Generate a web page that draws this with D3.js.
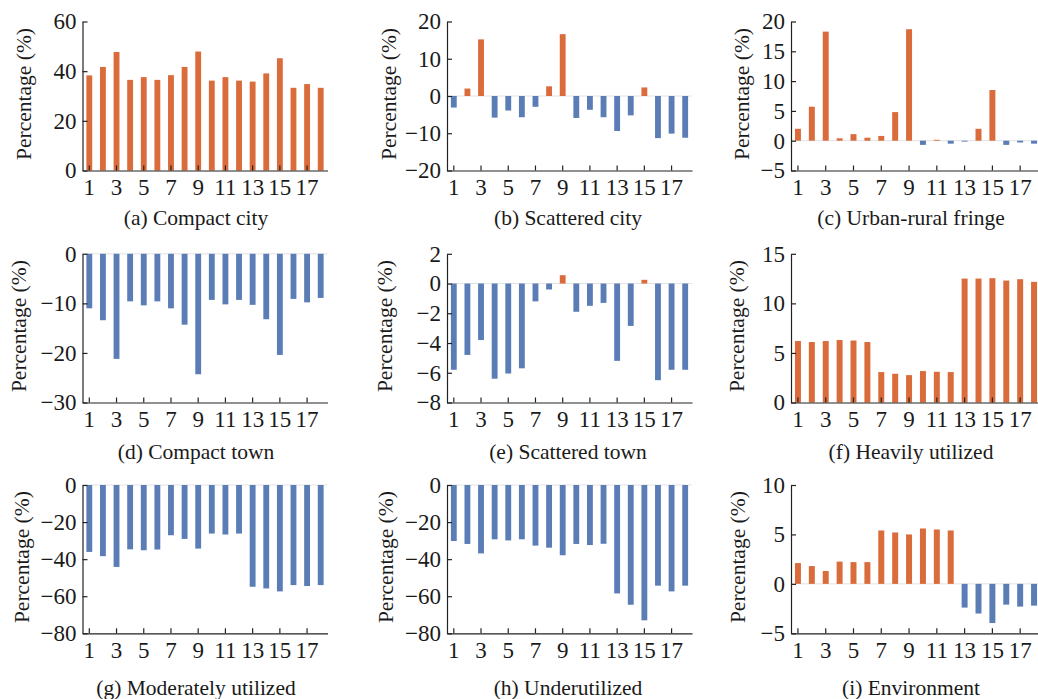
<!DOCTYPE html>
<html>
<head>
<meta charset="utf-8">
<script src="https://cdn.jsdelivr.net/npm/d3@7"></script>
<style>
  body { margin: 0; background: #fff; }
  text { font-family: "Liberation Serif", "Times New Roman", serif; fill: #1a1a1a; }
</style>
</head>
<body>
<script>
// categories on the x axis (18 cases) and the ones that get a label
const categories = ["1","2","3","4","5","6","7","8","9","10","11","12","13","14","15","16","17","18"];
const tickCats = ["1","3","5","7","9","11","13","15","17"];

const titles = [
  "(a) Compact city", "(b) Scattered city", "(c) Urban-rural fringe",
  "(d) Compact town", "(e) Scattered town", "(f) Heavily utilized",
  "(g) Moderately utilized", "(h) Underutilized", "(i) Environment"
];

// values (%)
const compactCity   = [38.3, 41.7, 47.7, 36.5, 37.6, 36.5, 38.4, 41.7, 47.9, 36.2, 37.6, 36.2, 35.8, 39.1, 45.2, 33.3, 34.8, 33.3];
const scatteredCity = [-3.1, 2.0, 15.2, -5.8, -3.9, -5.7, -2.9, 2.6, 16.6, -5.9, -3.7, -5.7, -9.4, -5.2, 2.3, -11.3, -10.1, -11.2];
const fringe        = [2.0, 5.7, 18.3, 0.4, 1.1, 0.5, 0.8, 4.8, 18.7, -0.7, 0.15, -0.5, -0.15, 2.0, 8.5, -0.7, -0.3, -0.5];
const compactTown   = [-11.0, -13.4, -21.2, -9.6, -10.4, -9.6, -11.0, -14.3, -24.3, -9.3, -10.2, -9.3, -10.3, -13.2, -20.4, -9.1, -9.8, -8.9];
const scatteredTown = [-5.8, -4.8, -3.8, -6.4, -6.05, -5.7, -1.2, -0.4, 0.56, -1.9, -1.5, -1.3, -5.2, -2.85, 0.25, -6.5, -5.8, -5.8];
const heavily       = [6.2, 6.1, 6.2, 6.3, 6.25, 6.1, 3.07, 2.9, 2.76, 3.17, 3.1, 3.07, 12.5, 12.5, 12.54, 12.3, 12.44, 12.17];
const moderately    = [-36.1, -38.4, -44.2, -34.7, -35.2, -34.8, -27.1, -29.1, -34.3, -26.2, -26.7, -26.2, -54.9, -55.8, -57.4, -54.0, -54.5, -54.0];
const under         = [-30.2, -31.8, -36.9, -29.3, -29.9, -29.3, -32.7, -33.8, -37.9, -31.8, -32.4, -31.7, -58.5, -64.6, -73.0, -54.3, -57.4, -54.3];
const environment   = [2.1, 1.8, 1.3, 2.25, 2.2, 2.2, 5.4, 5.2, 5.0, 5.6, 5.5, 5.4, -2.4, -3.0, -3.96, -2.1, -2.3, -2.2];

// y tick labels for each panel
const ticksA = [0, 20, 40, 60];
const ticksB = [-20, -10, 0, 10, 20];
const ticksC = [-5, 0, 5, 10, 15, 20];
const ticksD = [-30, -20, -10, 0];
const ticksE = [-8, -6, -4, -2, 0, 2];
const ticksF = [0, 5, 10, 15];
const ticksG = [-80, -60, -40, -20, 0];
const ticksH = [-80, -60, -40, -20, 0];
const ticksI = [-5, 0, 5, 10];

const panels = [
  { values: compactCity,   ticks: ticksA },
  { values: scatteredCity, ticks: ticksB },
  { values: fringe,        ticks: ticksC },
  { values: compactTown,   ticks: ticksD },
  { values: scatteredTown, ticks: ticksE },
  { values: heavily,       ticks: ticksF },
  { values: moderately,    ticks: ticksG },
  { values: under,         ticks: ticksH },
  { values: environment,   ticks: ticksI }
];

// layout of the 3x3 grid
const colX = [82.5, 447, 791];
const colW = [245, 245, 250];
const colTitleX = [196, 568, 911];
const rowTop = [21.5, 253.8, 485];
const rowBottom = [170.5, 402.5, 633.3];
const rowTitleY = [217, 451, 687];
const labelOff = [59, 59, 50, 64, 63, 55, 61, 62, 54];

const orange = "#da6b3b";
const blue = "#5b7db6";
const tickFont = 23;
const textFont = 21.5;

const svg = d3.select("body").append("svg")
    .attr("width", 1038)
    .attr("height", 699);

panels.forEach((p, i) => {
    const col = i % 3, row = Math.floor(i / 3);
    const top = rowTop[row], bottom = rowBottom[row];
    const g = svg.append("g").attr("transform", `translate(${colX[col]},0)`);

    const x = d3.scaleBand()
        .domain(categories)
        .range([0, colW[col]])
        .paddingInner(0.57)
        .paddingOuter(0.285);

    const y = d3.scaleLinear()
        .domain(d3.extent(p.ticks))
        .range([bottom, top]);

    // faint zero line
    if (y.domain()[0] < 0) {
        g.append("line")
            .attr("x1", 0).attr("x2", colW[col])
            .attr("y1", y(0)).attr("y2", y(0))
            .attr("stroke", "#e2e2e2")
            .attr("stroke-width", 1);
    }

    g.selectAll("rect.bar")
        .data(p.values)
        .join("rect")
        .attr("class", "bar")
        .attr("x", (d, j) => x(categories[j]))
        .attr("y", d => y(Math.max(0, d)))
        .attr("width", x.bandwidth())
        .attr("height", d => Math.abs(y(d) - y(0)))
        .attr("fill", d => d >= 0 ? orange : blue);

    // x axis sits at the bottom of the panel
    const xa = g.append("g")
        .attr("transform", `translate(0,${y(y.domain()[0])})`)
        .call(d3.axisBottom(x).tickValues(tickCats).tickSizeInner(-5).tickSizeOuter(0).tickPadding(8));

    const ya = g.append("g")
        .call(d3.axisLeft(y).tickValues(p.ticks).tickSizeInner(-5).tickSizeOuter(0).tickPadding(6)
            .tickFormat(d => d < 0 ? "\u2212" + Math.abs(d) : d));

    [xa, ya].forEach(a => {
        a.selectAll("path").attr("stroke", "#222").attr("stroke-width", 1.2);
        a.selectAll("line").attr("stroke", "#222").attr("stroke-width", 1.2);
        a.selectAll("text").attr("font-size", tickFont).attr("fill", "#1a1a1a")
            .style("font-family", "'Liberation Serif', serif");
    });

    g.append("text")
        .attr("transform", `translate(${-labelOff[i]},${(top + bottom) / 2 - 2}) rotate(-90)`)
        .attr("text-anchor", "middle")
        .attr("dy", "0.35em")
        .attr("font-size", textFont)
        .text("Percentage (%)");

    svg.append("text")
        .attr("x", colTitleX[col])
        .attr("y", rowTitleY[row])
        .attr("text-anchor", "middle")
        .attr("dy", "0.35em")
        .attr("font-size", textFont)
        .text(titles[i]);
});
</script>
</body>
</html>
